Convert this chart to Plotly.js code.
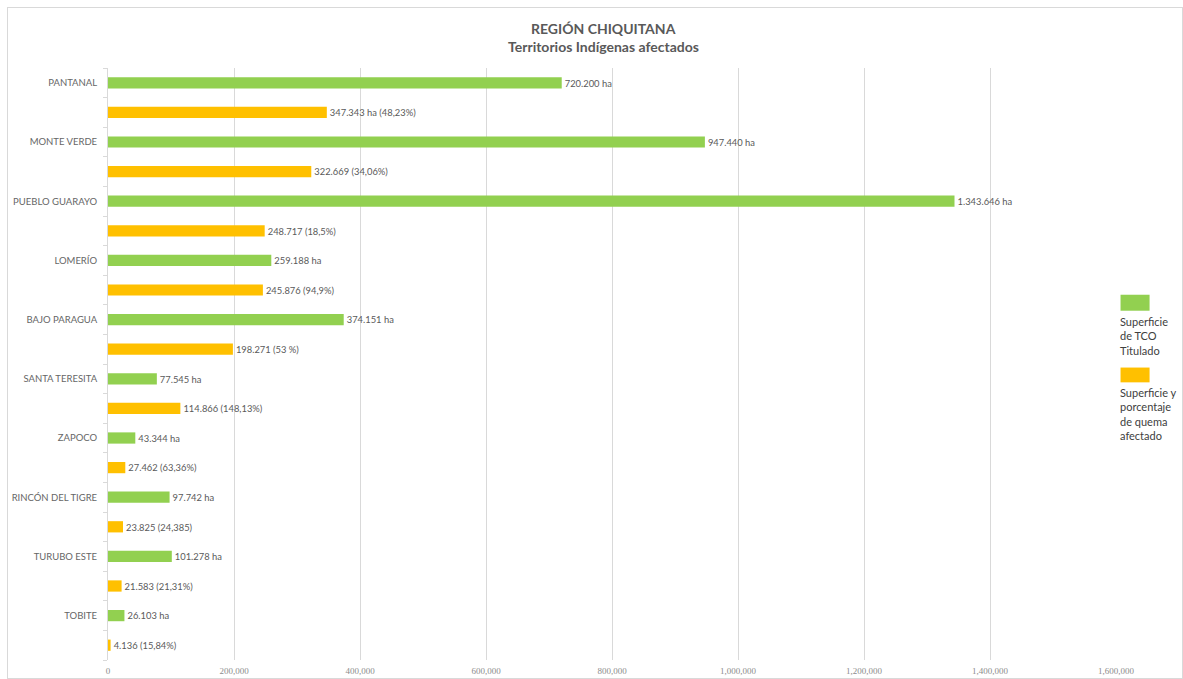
<!DOCTYPE html>
<html>
<head>
<meta charset="utf-8">
<script src="https://cdn.plot.ly/plotly-3.0.1.min.js"></script>
<style>
  html, body { margin: 0; padding: 0; background: #ffffff; }
  #chart { position: absolute; left: 7px; top: 7px; width: 1176px; height: 672px; border: 1px solid #d9d9d9; box-sizing: border-box; }
</style>
</head>
<body>
<div id="chart"></div>
<script>
// ---- data ----
const territorios = ["PANTANAL", "MONTE VERDE", "PUEBLO GUARAYO", "LOMERÍO", "BAJO PARAGUA",
  "SANTA TERESITA", "ZAPOCO", "RINCÓN DEL TIGRE", "TURUBO ESTE", "TOBITE"];
const superficieTCO = [720200, 947440, 1343646, 259188, 374151, 77545, 43344, 97742, 101278, 26103];
const superficieQuema = [347343, 322669, 248717, 245876, 198271, 114866, 27462, 23825, 21583, 4136];
const etiquetasTCO = ["720.200 ha", "947.440 ha", "1.343.646 ha", "259.188 ha", "374.151 ha",
  "77.545 ha", "43.344 ha", "97.742 ha", "101.278 ha", "26.103 ha"];
const etiquetasQuema = ["347.343 ha (48,23%)", "322.669 (34,06%)", "248.717 (18,5%)", "245.876 (94,9%)",
  "198.271 (53 %)", "114.866 (148,13%)", "27.462 (63,36%)", "23.825 (24,385)", "21.583 (21,31%)", "4.136 (15,84%)"];
const xTicks = [0, 200000, 400000, 600000, 800000, 1000000, 1200000, 1400000, 1600000];
const legendTCO = "Superficie<br>de TCO<br>Titulado";
const legendQuema = "Superficie y<br>porcentaje<br>de quema<br>afectado";
const titulo = "REGIÓN CHIQUITANA";
const subtitulo = "Territorios Indígenas afectados";

// row positions: each territory occupies two rows (TCO, then quema)
const rowTCO = territorios.map((_, i) => 2 * i);
const rowQuema = territorios.map((_, i) => 2 * i + 1);

const green = "#92d050";
const orange = "#ffc000";
const textGray = "#595959";
const FONT = "Lato, 'Open Sans', 'Liberation Sans', sans-serif";

const traces = [
  {
    type: "bar", orientation: "h", name: "Superficie de TCO Titulado",
    x: superficieTCO, y: rowTCO, width: 0.38,
    marker: { color: green },
    text: etiquetasTCO, textposition: "outside", cliponaxis: false,
    textfont: { family: FONT, size: 10, color: textGray },
    hoverinfo: "text", showlegend: false
  },
  {
    type: "bar", orientation: "h", name: "Superficie y porcentaje de quema afectado",
    x: superficieQuema, y: rowQuema, width: 0.38,
    marker: { color: orange },
    text: etiquetasQuema, textposition: "outside", cliponaxis: false,
    textfont: { family: FONT, size: 10, color: textGray },
    hoverinfo: "text", showlegend: false
  }
];

const layout = {
  width: 1174, height: 670,
  margin: { l: 100, r: 66, t: 60, b: 18, pad: 0 },
  paper_bgcolor: "#ffffff", plot_bgcolor: "#ffffff",
  font: { family: FONT, color: textGray },
  showlegend: false,
  barmode: "overlay",
  xaxis: {
    range: [0, 1600000], tickvals: xTicks, tickformat: ",d",
    showgrid: true, gridcolor: "#d9d9d9", gridwidth: 1,
    zeroline: false, showline: false, ticks: "",
    tickfont: { family: "'Liberation Serif', serif", size: 9, color: "#8c8c8c" },
    ticklabelstandoff: 4, fixedrange: true
  },
  yaxis: {
    range: [19.5, -0.5], autorange: false,
    tickvals: rowTCO, ticktext: territorios,
    showgrid: false, zeroline: false,
    showline: true, linecolor: "#d9d9d9", linewidth: 1,
    ticks: "", ticklabelstandoff: 8,
    tickfont: { family: FONT, size: 9.5, color: "#666666" },
    minor: { tick0: 0.5, dtick: 1, ticks: "outside", ticklen: 4, tickcolor: "#d9d9d9", showgrid: false },
    fixedrange: true
  },
  annotations: [
    { xref: "paper", yref: "paper", x: 0.492, y: 1.0, yshift: 40, xanchor: "center", yanchor: "middle",
      text: "<b>" + titulo + "</b>", showarrow: false, font: { family: FONT, size: 14, color: textGray } },
    { xref: "paper", yref: "paper", x: 0.492, y: 1.0, yshift: 22, xanchor: "center", yanchor: "middle",
      text: "<b>" + subtitulo + "</b>", showarrow: false, font: { family: FONT, size: 14, color: textGray } },
    { xref: "paper", yref: "paper", x: 1.0, xshift: 2, y: 0.586, xanchor: "left", yanchor: "top", align: "left",
      text: legendTCO, showarrow: false, font: { family: FONT, size: 11, color: "#404040" } },
    { xref: "paper", yref: "paper", x: 1.0, xshift: 2, y: 0.466, xanchor: "left", yanchor: "top", align: "left",
      text: legendQuema, showarrow: false, font: { family: FONT, size: 11, color: "#404040" } }
  ],
  shapes: [
    { type: "rect", xref: "paper", yref: "paper", x0: 1.0045, x1: 1.0333, y0: 0.590, y1: 0.617,
      fillcolor: green, line: { width: 0 } },
    { type: "rect", xref: "paper", yref: "paper", x0: 1.0045, x1: 1.0333, y0: 0.469, y1: 0.494,
      fillcolor: orange, line: { width: 0 } }
  ]
};

Plotly.newPlot("chart", traces, layout, { displayModeBar: false, staticPlot: true });
</script>
</body>
</html>
